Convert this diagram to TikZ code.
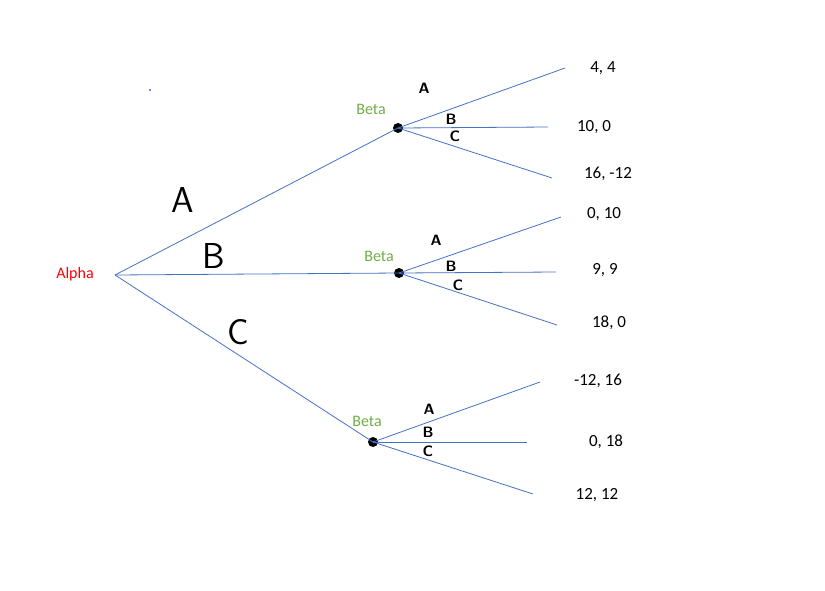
\documentclass[tikz,border=0pt]{standalone}
\usepackage{fontspec}
\setmainfont{Carlito}
\begin{document}
\begin{tikzpicture}[x=1pt,y=-1pt,
 edge/.style={draw={rgb,255:red,68;green,114;blue,196},line width=0.8pt},
 pay/.style={font=\fontsize{17}{20}\selectfont},
 beta/.style={font=\fontsize{16}{19}\selectfont,text={rgb,255:red,112;green,173;blue,71}},
 big/.style={font=\sffamily\fontsize{36}{40}\selectfont},
 sm/.style={font=\sffamily\bfseries\fontsize{15}{17}\selectfont},
 dot/.style={circle,fill=black,inner sep=0pt,minimum size=10pt}]
\useasboundingbox (0,0) rectangle (825,590);
\fill[blue] (150,90) circle (0.8);
\node[font=\fontsize{16}{19}\selectfont,text=red] at (75,274) {Alpha};
\coordinate (r) at (115,275);
\node[dot] (b1) at (398,128) {};
\node[dot] (b2) at (399,273) {};
\node[dot] (b3) at (373,442) {};
\draw[edge] (r) -- (b1.center); \draw[edge] (r) -- (b2.center); \draw[edge] (r) -- (b3.center);
\node[beta] at (371,109) {Beta};
\node[beta] at (379,256) {Beta};
\node[beta] at (367,421) {Beta};
\foreach \b/\x/\y/\t [count=\i] in {b1/565/68/{4, 4},b1/548/127/{10, 0},b1/552/178/{16, -12},
 b2/561/217/{0, 10},b2/556/272/{9, 9},b2/557/325/{18, 0},
 b3/540/382/{-12, 16},b3/527/442/{0, 18},b3/533/494/{12, 12}}{
 \coordinate (e\i) at (\x,\y);
 \draw[edge] (\b.center) -- (e\i);}
\node[pay] at (603,68) {4, 4};
\node[pay] at (594,127) {10, 0};
\node[pay] at (608,174) {16, -12};
\node[pay] at (604,214) {0, 10};
\node[pay] at (605,270) {9, 9};
\node[pay] at (609,323) {18, 0};
\node[pay] at (598,381) {-12, 16};
\node[pay] at (606,442) {0, 18};
\node[pay] at (597,495) {12, 12};
\node[big] at (183,200) {A};
\node[big] at (214,256) {B};
\node[big] at (238,332) {C};
\node[sm] at (424,88) {A}; \node[sm] at (451,119) {B}; \node[sm] at (455,136) {C};
\node[sm] at (436,240) {A}; \node[sm] at (451,266) {B}; \node[sm] at (458,285) {C};
\node[sm] at (429,409) {A}; \node[sm] at (428,432) {B}; \node[sm] at (428,451) {C};
\end{tikzpicture}
\end{document}
